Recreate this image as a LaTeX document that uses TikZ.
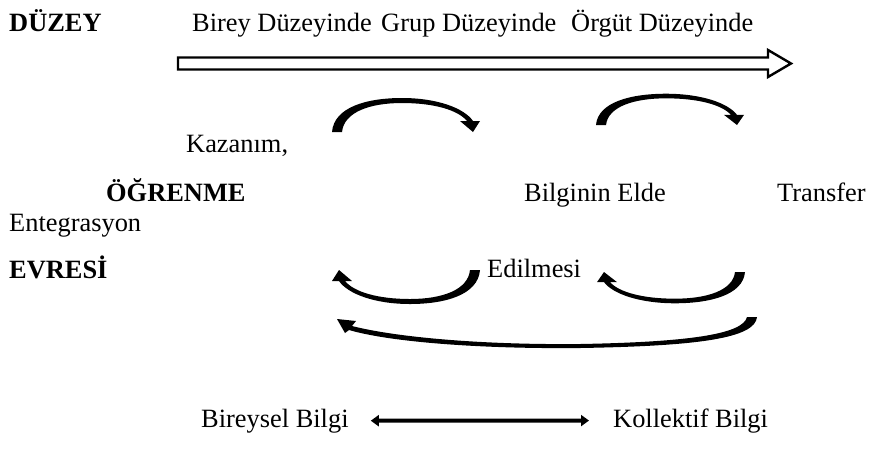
\documentclass[tikz,border=0pt]{standalone}
\usepackage{fontspec}
\setmainfont{Liberation Serif}
\usetikzlibrary{arrows.meta}
\tikzset{
  lbl/.style={anchor=base west, inner sep=0pt, font=\fontsize{26.4}{30}\selectfont},
  blbl/.style={anchor=base west, inner sep=0pt, font=\fontsize{26.4}{30}\selectfont\bfseries},
  pics/curvarrow/.style={code={
    \fill (0,0) .. controls (2,-25) and (35,-34) .. (70,-34)
      .. controls (105,-34) and (132,-24) .. (141,-11)
      -- (148,-11) -- (141,0) -- (128,-11) -- (135,-11)
      .. controls (126,-22) and (102,-29) .. (70,-29)
      .. controls (38,-29) and (12,-20) .. (10,0) -- cycle;
  }}
}
\begin{document}
\begin{tikzpicture}[x=1pt,y=-1pt]
\useasboundingbox (0,0) rectangle (869,459);
% texts
\node[blbl] (duzey) at (9,31) {DÜZEY};
\node[lbl] (birey) at (192,31) {Birey Düzeyinde};
\node[lbl] (grup) at (381,31) {Grup Düzeyinde};
\node[lbl] (orgut) at (571,31) {Örgüt Düzeyinde};
\node[lbl] (kaz) at (186,152) {Kazanım,};
\node[blbl] (ogr) at (106,201) {ÖĞRENME};
\node[lbl] (bilg) at (524,201) {Bilginin Elde};
\node[lbl] (trans) at (777,201) {Transfer};
\node[lbl] (ent) at (9,231) {Entegrasyon};
\node[blbl] (evr) at (9,278) {EVRESİ};
\node[lbl] (edil) at (487,277) {Edilmesi};
\node[lbl] (bir) at (201,427) {Bireysel Bilgi};
\node[lbl] (kol) at (613,427) {Kollektif Bilgi};
% hollow level arrow
\draw[line width=2.4pt, line join=miter, fill=white]
  (178,57.5) -- (768,57.5) -- (768,50) -- (791,63.5) -- (768,77) -- (768,69.5) -- (178,69.5) -- cycle;
% curved arrows
\pic at (332,132) {curvarrow};
\pic[yscale=0.92] at (596,125) {curvarrow};
\pic[rotate=180] at (480,270) {curvarrow};
\pic[rotate=180, yscale=0.92] at (745,272) {curvarrow};
% big return curve
\fill (747,317) .. controls (743,334) and (690,342) .. (580,344)
  .. controls (480,345) and (395,337) .. (352,326)
  -- (356,321) -- (337,319) -- (345,333) -- (349,330)
  .. controls (390,342) and (480,349) .. (580,348)
  .. controls (700,346) and (755,338) .. (757,317) -- cycle;
% double arrow
\draw[line width=4pt, {Triangle[width=11pt,length=8pt]}-{Triangle[width=11pt,length=8pt]}]
  ([xshift=22pt]bir.east) -- ([xshift=-24pt]kol.west);
\end{tikzpicture}
\end{document}
